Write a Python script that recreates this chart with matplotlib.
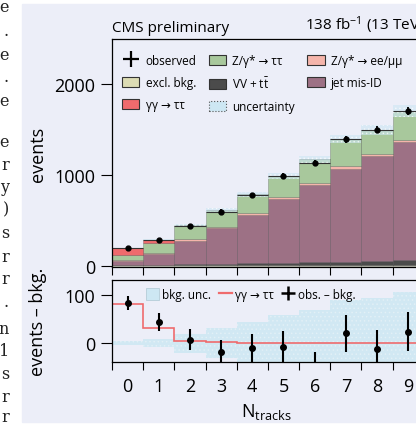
import numpy as np
import matplotlib.pyplot as plt
from matplotlib.patches import Patch, Rectangle
from matplotlib.lines import Line2D

# fonts: text font first, DejaVu for arrows and other missing glyphs
plt.rcParams['font.family'] = ['Open Sans', 'DejaVu Sans']
plt.rcParams['mathtext.fontset'] = 'custom'
plt.rcParams['mathtext.rm'] = 'Open Sans'
plt.rcParams['mathtext.it'] = 'Open Sans:italic'
plt.rcParams['font.size'] = 13
plt.rcParams['axes.linewidth'] = 0.9
plt.rcParams['hatch.linewidth'] = 0.6

# events per track-multiplicity bin
n_tracks = np.arange(10)
excl_bkg = np.array([8, 7, 6, 5, 5, 5, 5, 5, 5, 5])
vv_ttbar = np.array([4, 6, 10, 16, 20, 26, 32, 40, 48, 58])
jet_misid = np.array([40, 115, 259, 390, 527, 697, 850, 1018, 1149, 1293])
z_ll = np.array([10, 10, 15, 18, 22, 25, 25, 28, 30, 30])
z_tautau = np.array([52, 117, 152, 180, 210, 228, 258, 299, 262, 314])
gg_tautau = np.array([80, 31, 5, 3, 1, 0.5, 0.3, 0.3, 0.3, 0.3])
stack_unc = np.array([5, 8, 12, 18, 25, 32, 40, 45, 55, 65])
observed = np.array([194, 282, 440, 594, 772, 982, 1125, 1389, 1494, 1697])

# lower panel: data minus background
obs_minus_bkg = np.array([83, 44, 7.5, -18.5, -10, -8, -55, 21, -12, 24])
obs_minus_bkg_err = np.array([14, 18, 21.5, 25, 29, 33, 37, 38, 39, 40])
bkg_unc = np.array([4, 8, 19, 31, 43, 58, 69, 89, 94, 105])

# line endings of the surrounding page text
page_chars = ['e', '.', 'e', '.', 'e', 'e', 'r', 'y', ')', 's', 'r', 'r',
              '.', 'n', '1', 's', 'r', 'r']
page_rows = [8, 32, 55, 78, 102, 143, 165, 187, 210, 233, 257, 280,
             303, 330, 352, 375, 398, 418]

bg = '#eceef8'
c_excl = '#dcdcb4'
c_vv = '#4b4b4b'
c_jet = '#9d7185'
c_zll = '#f5b5ab'
c_ztt = '#a8c89c'
c_gg = '#ef6b6d'
c_unc = '#cde7f3'

W, H = 416, 427
fig = plt.figure(figsize=(W / 100, H / 100), dpi=100, facecolor='white')
fig.add_artist(Rectangle((22 / W, 4 / H), 1, 418 / H, transform=fig.transFigure,
                         color=bg, zorder=-10))
for ch, yp in zip(page_chars, page_rows):
    fig.text(9 / W, 1 - yp / H, ch, ha='right', va='center', fontsize=11.5,
             family='DejaVu Serif', color='#222222')

ax = fig.add_axes([112 / W, 159 / H, 311.8 / W, 228 / H])
axb = fig.add_axes([112 / W, 64 / H, 311.8 / W, 82 / H])
for a in (ax, axb):
    a.set_facecolor('none')

# stacked prediction
layers = [excl_bkg, vv_ttbar, jet_misid, z_ll, z_tautau, gg_tautau]
colors = [c_excl, c_vv, c_jet, c_zll, c_ztt, c_gg]
bottom = np.zeros(len(n_tracks))
for vals, col in zip(layers, colors):
    ax.bar(n_tracks, vals, width=1, bottom=bottom, color=col,
           edgecolor=(0, 0, 0, 0.25), linewidth=0.5)
    bottom = bottom + vals
total = bottom
ax.bar(n_tracks, 2 * stack_unc, width=1, bottom=total - stack_unc, color=c_unc,
       alpha=0.6, hatch='....', edgecolor='white', linewidth=0)

ax.hlines(observed, n_tracks - 0.5, n_tracks + 0.5, color='#333333', lw=0.8)
ax.errorbar(n_tracks, observed, yerr=np.sqrt(observed), fmt='o', color='k',
            ms=3.5, elinewidth=1.3, capsize=0)

ax.set_xlim(-0.5, 9.5)
ax.set_ylim(-14, 2490)
ax.set_yticks([0, 1000, 2000])
ax.set_xticks(np.arange(-0.5, 10, 1))
ax.tick_params(axis='x', labelbottom=False, length=5.5, width=0.8)
ax.tick_params(axis='y', length=8, width=0.8, pad=4)
ax.spines['right'].set_visible(False)

ax.text(0, 1.017, 'CMS preliminary', transform=ax.transAxes, fontsize=11,
        va='bottom')
ax.text(0.619, 1.017, r'138 fb$^{-1}$ (13 TeV)', transform=ax.transAxes,
        fontsize=11, va='bottom')

handles = [
    Line2D([], [], color='k', marker='+', ms=11, mew=1.6, ls='none'),
    Patch(facecolor=c_excl, edgecolor='#333333', lw=0.8),
    Patch(facecolor=c_gg, edgecolor='#333333', lw=0.8),
    Patch(facecolor=c_ztt, edgecolor='#333333', lw=0.8),
    Patch(facecolor=c_vv, edgecolor='#333333', lw=0.8),
    Patch(facecolor=c_unc, edgecolor='#555555', lw=0.8, ls=':'),
    Patch(facecolor=c_zll, edgecolor='#333333', lw=0.8),
    Patch(facecolor=c_jet, edgecolor='#333333', lw=0.8),
]
labels = ['observed', 'excl. bkg.', 'γγ → ττ', 'Z/γ* → ττ', r'VV + t$\bar{\rm t}$',
          'uncertainty', 'Z/γ* → ee/μμ', 'jet mis-ID']
ax.legend(handles, labels, ncol=3, loc='upper left', bbox_to_anchor=(0.013, 0.96),
          frameon=False, fontsize=8.5, handlelength=1.45, handleheight=0.95,
          handletextpad=0.55, columnspacing=1.05, labelspacing=0.75, borderpad=0)

# lower panel
edges = np.arange(-0.5, 10, 1)
axb.bar(n_tracks, 2 * bkg_unc, width=1, bottom=-bkg_unc, color=c_unc,
        alpha=0.85, hatch='....', edgecolor='#e4f1f7', linewidth=0)
axb.stairs(gg_tautau, edges, baseline=None, color=c_gg, lw=1.2)
axb.errorbar(n_tracks, obs_minus_bkg, yerr=obs_minus_bkg_err, fmt='o', color='k',
             ms=4, elinewidth=1.5, capsize=0)

axb.set_xlim(-0.5, 9.5)
axb.set_ylim(-38.5, 130)
axb.set_yticks([0, 100])
axb.set_xticks(edges)
axb.set_xticklabels([])
axb.set_xticks(n_tracks, minor=True)
axb.set_xticklabels([str(n) for n in n_tracks], minor=True)
axb.tick_params(axis='x', which='major', length=5.5, width=0.8)
axb.tick_params(axis='x', which='minor', length=0, pad=11)
axb.tick_params(axis='y', length=8, width=0.8, pad=4)

bhandles = [
    Patch(facecolor=c_unc, edgecolor='#b5cdd8', lw=0.6),
    Line2D([], [], color=c_gg, lw=1.6),
    Line2D([], [], color='k', marker='+', ms=10, mew=1.8, ls='none'),
]
axb.legend(bhandles, ['bkg. unc.', 'γγ → ττ', 'obs. – bkg.'], ncol=3,
           loc='upper left', bbox_to_anchor=(0.09, 0.97), frameon=False,
           fontsize=8.5, handlelength=1.1, handleheight=1.2, handletextpad=0.3,
           columnspacing=0.6, borderpad=0)

fig.text(38 / W, 1 - 154 / H, 'events', rotation=90, ha='center', va='center',
         fontsize=13)
fig.text(38 / W, 1 - 322 / H, 'events – bkg.', rotation=90, ha='center',
         va='center', fontsize=13)
fig.text(266 / W, 1 - 417 / H, r'N$_{\mathrm{tracks}}$', ha='center',
         va='baseline', fontsize=13)

fig.savefig('out.png', dpi=100)
